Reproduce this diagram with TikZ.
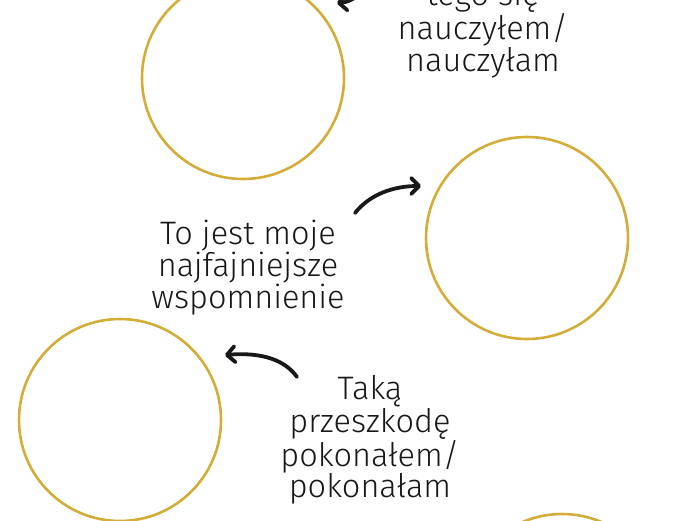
\documentclass[tikz,border=0pt]{standalone}
\usepackage{fontspec}
\setmainfont{Fira Sans Light}
\usetikzlibrary{positioning,arrows.meta}

\definecolor{gold}{RGB}{212,172,56}
\definecolor{ink}{RGB}{24,24,24}

\tikzset{
    frame circle/.style={circle, draw=gold, line width=2.6pt, minimum size=202pt, inner sep=0pt},
    caption text/.style={align=center, text=ink, font=\fontsize{32.5}{30}\selectfont, inner sep=0pt},
    curved arrow/.style={line width=3.8pt, line cap=round, ink,
        -{Straight Barb[length=8pt,width=16pt,round]}}
}

\begin{document}
\begin{tikzpicture}[x=1pt,y=-1pt]
    \useasboundingbox (0,0) rectangle (700,520);
    \clip (0,0) rectangle (700,520);

    \node[frame circle] (top circle) at (243,78) {};
    \node[frame circle] (right circle) at (527,238) {};
    \node[frame circle] (left circle) at (120,420) {};
    \node[frame circle] (bottom circle) at (562,615) {};

    \node[caption text, anchor=south] (lesson text) at (483,78) {tego się\\nauczyłem/\\nauczyłam};
    \node[caption text] (memory text) at (248,268) {To jest moje\\najfajniejsze\\wspomnienie};
    \node[caption text] (obstacle text) at (370,440) {Taką\\przeszkodę\\pokonałem/\\pokonałam};

    \coordinate (lesson arrow start) at (372,-22);
    \coordinate (lesson arrow end) at (337,3);
    \coordinate (memory arrow start) at (355,213);
    \coordinate (memory arrow end) at (421,186);
    \coordinate (obstacle arrow start) at (297,377);
    \coordinate (obstacle arrow end) at (225,355);

    \draw[curved arrow] (lesson arrow start) .. controls (362,-6) and (352,2) .. (lesson arrow end);
    \draw[curved arrow] (memory arrow start) .. controls (370,194) and (394,186) .. (memory arrow end);
    \draw[curved arrow] (obstacle arrow start) .. controls (285,360) and (262,352) .. (obstacle arrow end);
\end{tikzpicture}
\end{document}
